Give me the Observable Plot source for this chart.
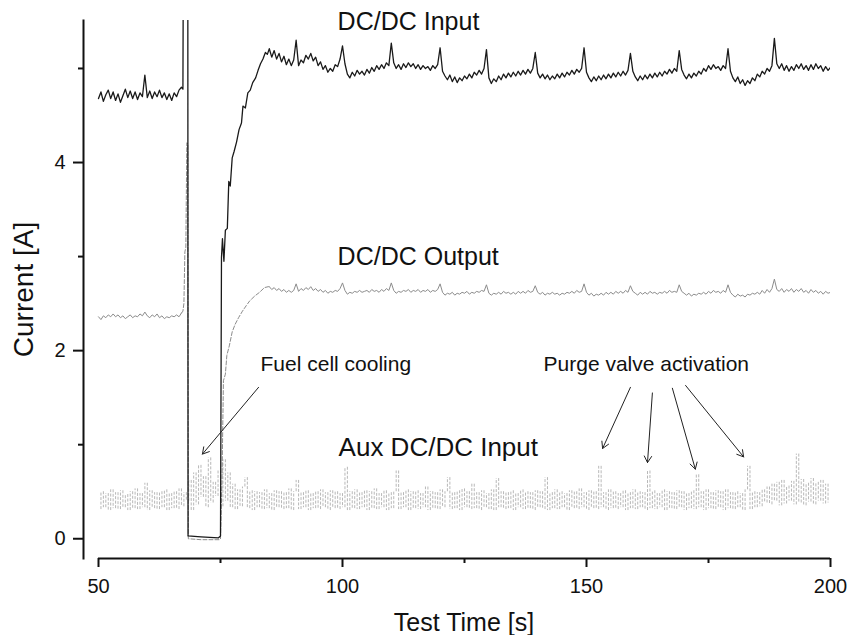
<!DOCTYPE html>
<html>
<head>
<meta charset="utf-8">
<script src="https://cdn.jsdelivr.net/npm/d3@7"></script>
<script src="https://cdn.jsdelivr.net/npm/@observablehq/plot@0.6"></script>
<style>
  html, body { margin: 0; padding: 0; background: #fff; }
  #chart { width: 848px; height: 635px; }
</style>
</head>
<body>
<div id="chart"></div>
<script>
// ---- Data ----
// DC/DC Input, 50 s – 67 s, every 0.5 s, in hundredths of A
const inputPre = [
  468,475,465,472,477,468,475,466,473,464,
  471,478,469,476,468,475,467,474,470,493,
  469,476,468,475,470,477,469,474,467,473,
  466,474,470,477,480
];
// DC/DC Input, transient [time s, current A]
const inputTransient = [
  [67.3,4.78],[67.4,6.5],[68.3,6.5],[68.35,0.03],[71,0.02],[74.6,0.01],[75.0,0.03],
  [75.2,2.99],[75.4,3.19],[75.7,2.95],[76.0,3.28],[76.4,3.30],[76.7,3.80],[77.0,3.75],
  [77.4,4.05],[77.8,4.12],[78.3,4.22],[78.8,4.35],[79.3,4.42],[79.6,4.60],[80.1,4.58],
  [80.6,4.74],[81.1,4.77],[81.6,4.85],[82.2,4.90],[82.7,4.98],[83.2,5.05],[83.7,5.10],
  [84.2,5.17],[84.6,5.15]
];
// DC/DC Input, 85 s – 200 s, every 0.5 s, in hundredths of A
const inputPost = [
  521,512,519,510,516,507,513,504,510,503,
  509,530,503,509,506,514,510,516,508,512,
  503,507,499,503,496,500,497,504,502,510,
  524,505,494,490,496,492,498,494,497,493,
  499,495,501,497,503,499,504,500,506,503,
  527,506,500,504,499,505,501,506,502,505,
  500,504,499,503,500,502,498,503,500,504,
  522,497,492,488,493,486,491,485,490,487,
  492,489,494,490,496,493,498,494,500,520,
  490,484,489,486,492,488,494,490,495,491,
  496,492,497,493,498,494,499,495,500,517,
  495,490,494,489,493,488,492,489,494,490,
  495,491,496,493,498,494,499,496,500,522,
  496,490,486,491,487,492,488,493,489,494,
  490,495,491,496,492,497,493,498,516,497,
  491,487,492,488,493,489,494,490,495,491,
  496,492,497,494,499,495,500,497,519,499,
  493,489,494,490,495,492,497,494,500,497,
  503,499,504,500,502,498,503,500,521,497,
  490,486,491,484,488,482,487,484,490,487,
  494,491,497,494,500,497,503,532,505,500,
  505,498,503,497,502,498,504,500,505,499,
  503,498,504,499,505,500,503,497,502,498,
  501
];

// DC/DC Output, 50 s – 67 s, every 0.5 s, hundredths of A
const outputPre = [
  236,233,237,235,238,236,239,236,238,235,
  237,234,236,238,235,237,236,239,237,241,
  237,235,238,236,239,235,237,234,236,235,
  237,236,238,236,240
];
// DC/DC Output, transient [time s, current A]
const outputTransient = [
  [67.0,2.40],[67.3,2.42],[67.5,2.50],[67.7,3.05],[67.9,3.10],[68.1,4.21],[68.3,4.20],
  [68.4,0.0],[71,-0.01],[74.7,-0.01],[75.0,0.0],[75.3,0.6],[75.6,1.68],[76.0,1.75],
  [76.3,1.95],[76.8,2.05],[77.4,2.20],[78.0,2.28],[78.7,2.35],[79.5,2.42],[80.3,2.48],
  [81.0,2.53],[82.0,2.58],[83.0,2.62],[84.0,2.67],[84.8,2.68],[85.0,2.68]
];
// DC/DC Output, 85 s – 200 s, every 0.5 s, hundredths of A
const outputPost = [
  268,265,267,264,266,263,265,262,264,262,
  264,271,263,266,264,267,265,268,264,266,
  263,265,262,264,261,263,262,264,263,266,
  272,264,260,262,261,263,262,264,262,263,
  264,262,265,263,264,262,265,263,266,264,
  272,264,261,263,262,264,263,265,262,264,
  263,265,262,264,263,265,262,264,263,265,
  271,262,259,261,260,262,259,261,260,262,
  261,263,260,262,261,263,262,264,263,270,
  261,259,261,260,262,260,263,261,262,260,
  262,260,263,261,263,261,264,262,263,269,
  262,260,262,259,261,260,262,260,261,259,
  261,260,262,261,263,261,264,262,263,271,
  262,259,261,258,260,259,261,259,262,260,
  262,260,263,261,263,261,264,262,269,263,
  261,259,262,260,262,260,263,261,262,260,
  262,261,263,261,264,262,263,262,270,263,
  261,259,261,258,260,259,261,260,262,260,
  263,261,264,262,263,261,264,262,270,262,
  259,257,260,258,259,257,260,259,261,260,
  262,260,264,261,265,262,266,276,265,263,
  266,262,265,263,266,262,265,263,266,262,
  264,261,265,262,264,261,263,260,263,261,
  262
];

// Aux DC/DC Input, 50 s – 200 s, every 0.5 s, hundredths of A
const auxInput = [
  31,50,33,48,30,52,32,49,31,51,
  33,47,30,50,32,53,31,48,33,59,
  30,51,32,49,31,50,33,52,30,48,
  32,50,31,53,34,49,40,62,30,70,
  36,78,44,66,33,86,38,60,45,72,
  34,84,40,70,33,58,31,52,34,55,
  65,32,51,30,50,33,49,31,52,32,
  48,30,51,33,50,31,49,32,53,30,
  50,62,31,49,33,51,30,48,32,50,
  31,52,33,49,30,51,32,50,31,48,
  33,76,30,50,32,52,31,49,33,51,
  30,50,32,53,31,48,33,51,30,49,
  32,50,72,31,49,33,52,30,50,32,
  51,31,48,33,55,30,50,32,49,31,
  52,33,50,65,31,49,32,51,30,53,
  33,50,31,58,32,49,30,51,33,48,
  31,52,30,64,33,50,31,49,32,51,
  30,48,33,52,31,50,32,49,30,51,
  33,50,31,65,30,49,32,52,31,50,
  33,48,30,51,32,50,31,53,33,49,
  30,51,32,50,31,77,33,49,30,52,
  32,50,31,48,33,51,30,49,32,52,
  31,50,33,49,30,72,32,51,31,48,
  33,52,30,50,32,49,31,51,33,50,
  30,48,32,51,31,68,33,50,30,52,
  32,49,31,51,33,50,30,52,32,49,
  31,50,33,48,30,52,77,31,50,33,
  49,34,52,38,55,36,58,40,60,35,
  62,37,56,40,61,36,90,38,63,35,
  59,39,64,36,60,40,62,37,58,38,
  60
];

// Tick values
const xMajorTicks = [50, 100, 150, 200];
const xMinorTicks = [75, 125, 175];
const yMajorTicks = [0, 2, 4];
const yMinorTicks = [1, 3, 5];

// Annotations
const seriesLabels = [
  {text: "DC/DC Input", x: 99, y: 5.49, size: 25},
  {text: "DC/DC Output", x: 99, y: 3.0, size: 25},
  {text: "Aux DC/DC Input", x: 99.2, y: 0.97, size: 26}
];
const noteLabels = [
  {text: "Fuel cell cooling", x: 83.2, y: 1.86},
  {text: "Purge valve activation", x: 141.2, y: 1.86}
];
const arrows = [
  {x1: 82.8, y1: 1.61, x2: 71.3, y2: 0.90},
  {x1: 159.0, y1: 1.61, x2: 153.3, y2: 0.96},
  {x1: 163.5, y1: 1.55, x2: 162.5, y2: 0.81},
  {x1: 167.6, y1: 1.60, x2: 172.3, y2: 0.74},
  {x1: 170.3, y1: 1.63, x2: 182.2, y2: 0.87}
];

// ---- Build tables ----
const grid = (arr, t0) => arr.map((v, i) => ({t: t0 + i * 0.5, v: v / 100}));
const pairs = arr => arr.map(([t, v]) => ({t, v}));

const inputRows = [...grid(inputPre, 50), ...pairs(inputTransient), ...grid(inputPost, 85)];
const outPreRows = grid(outputPre, 50);
const outTransRows = pairs(outputTransient);
const outPostRows = grid(outputPost, 85);
// aux drawn as a comb: a vertical stroke from each sample to the previous one
const auxRows = grid(auxInput, 50).map((d, i, a) => ({...d, prev: i ? a[i - 1].v : d.v}));

// ---- Layout (pixels) ----
const W = 848, H = 635;
const mL = 83, mR = 18, mT = 20, mB = 77;
const yDomain = [-0.21, 5.51];
const pxPerX = 732 / 150;                 // 50 → 200 spans 732 px
const xStart = 50 - 15 / pxPerX;          // y axis sits 15 px left of x = 50
const pxPerY = (H - mT - mB) / (yDomain[1] - yDomain[0]);
const AX = 2;
const font = "'Liberation Sans', Arial, Helvetica, sans-serif";

const chart = Plot.plot({
  width: W,
  height: H,
  marginLeft: mL,
  marginRight: mR,
  marginTop: mT,
  marginBottom: mB,
  x: {domain: [xStart, 200]},
  y: {domain: yDomain},
  style: {fontFamily: font, fontSize: "20px", color: "#111", background: "#fff"},
  marks: [
    // series
    Plot.ruleX(auxRows, {x: "t", y1: "prev", y2: "v", stroke: "#b0b0b0", strokeWidth: 0.9, strokeDasharray: "3,1.5", clip: true}),
    Plot.line(outPreRows, {x: "t", y: "v", stroke: "#8c8c8c", strokeWidth: 1, clip: true}),
    Plot.line(outTransRows, {x: "t", y: "v", stroke: "#8c8c8c", strokeWidth: 1, strokeDasharray: "4,2", clip: true}),
    Plot.line(outPostRows, {x: "t", y: "v", stroke: "#8c8c8c", strokeWidth: 1, clip: true}),
    Plot.line(inputRows, {x: "t", y: "v", stroke: "#1a1a1a", strokeWidth: 1.3, clip: true}),

    // axes (detached, Origin style)
    Plot.frame({anchor: "left", stroke: "#111", strokeWidth: AX}),
    Plot.ruleY([yDomain[0]], {x1: 50, x2: 200, stroke: "#111", strokeWidth: AX}),
    // y ticks
    Plot.ruleY(yMajorTicks, {x1: xStart - 10 / pxPerX, x2: xStart, stroke: "#111", strokeWidth: AX}),
    Plot.ruleY(yMinorTicks, {x1: xStart - 5 / pxPerX, x2: xStart, stroke: "#111", strokeWidth: AX}),
    // x ticks
    Plot.ruleX(xMajorTicks, {y1: yDomain[0], y2: yDomain[0] - 9 / pxPerY, stroke: "#111", strokeWidth: AX}),
    Plot.ruleX(xMinorTicks, {y1: yDomain[0], y2: yDomain[0] - 5 / pxPerY, stroke: "#111", strokeWidth: AX}),
    // tick labels
    Plot.axisY(yMajorTicks, {anchor: "left", tickSize: 0, tickPadding: 18, fontSize: 20, tickFormat: d => String(d), label: null}),
    Plot.axisX(xMajorTicks, {anchor: "bottom", tickSize: 0, tickPadding: 20, fontSize: 20, tickFormat: d => String(d), label: null}),

    // axis titles
    Plot.text(["Test Time [s]"], {frameAnchor: "bottom", dx: 7, dy: 64, fontSize: 25, textAnchor: "middle", lineAnchor: "middle", fill: "#111"}),
    Plot.text(["Current [A]"], {frameAnchor: "left", dx: -59, rotate: -90, fontSize: 28, textAnchor: "middle", lineAnchor: "middle", fill: "#111"}),

    // annotations
    Plot.text(seriesLabels, {x: "x", y: "y", text: "text", fontSize: d => d.size, textAnchor: "start", lineAnchor: "middle", fill: "#111"}),
    Plot.text(noteLabels, {x: "x", y: "y", text: "text", fontSize: 21, textAnchor: "start", lineAnchor: "middle", fill: "#111"}),
    Plot.arrow(arrows, {x1: "x1", y1: "y1", x2: "x2", y2: "y2", stroke: "#222", strokeWidth: 1, headLength: 11})
  ]
});

document.getElementById("chart").appendChild(chart);
</script>
</body>
</html>
